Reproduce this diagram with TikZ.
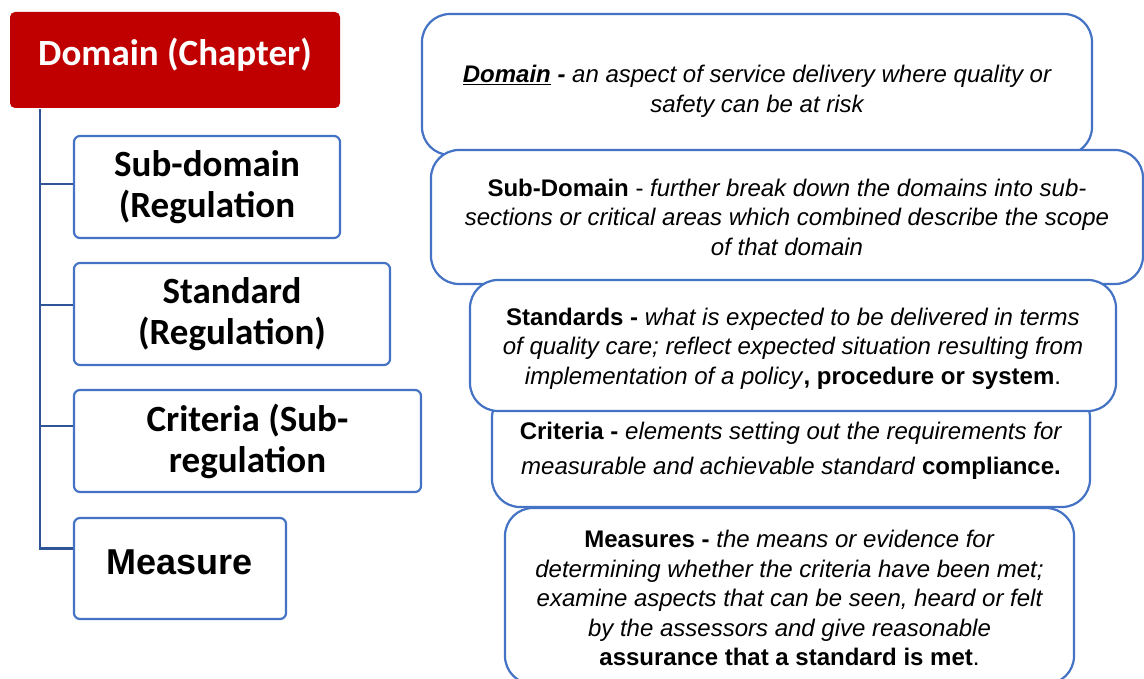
\documentclass[tikz,border=0pt]{standalone}
\usepackage{fontspec}
\setmainfont{Liberation Sans}
\newfontfamily\headfont{Carlito}
\newfontfamily\deffont{Liberation Sans}
\definecolor{chapred}{HTML}{C00000}
\definecolor{boxblue}{HTML}{4472C4}
\definecolor{treeblue}{HTML}{2F5597}
\newcommand\lift[1]{\rule{0pt}{#1}}
\tikzset{
  lvlbox/.style={draw=boxblue, line width=2.2pt, rounded corners=6pt, fill=white,
    inner sep=0pt, align=center, font=\headfont\fontsize{37}{41}\selectfont\bfseries},
  defbox/.style={draw=boxblue, line width=2.2pt, rounded corners=28pt, fill=white,
    inner sep=0pt, align=center, font=\deffont\fontsize{24}{29.5}\selectfont},
  tree/.style={treeblue, line width=2.5pt}
}
\begin{document}
\begin{tikzpicture}[x=1pt,y=-1pt]
\useasboundingbox (0,0) rectangle (1144,679);
\node[lvlbox, fill=chapred, draw=none, text=white, rounded corners=5pt,
  minimum width=330pt, minimum height=96pt] (dom) at (175,60) {\raisebox{16pt}{Domain (Chapter)}};
\node[lvlbox, minimum width=266pt, minimum height=102pt] (sub) at (207,187) {Sub-domain\\(Regulation};
\node[lvlbox, minimum width=316pt, minimum height=102pt] (std) at (232,314) {Standard\\(Regulation)};
\node[lvlbox, minimum width=347pt, minimum height=102pt] (crit) at (247.5,441) {Criteria (Sub-\\regulation};
\node[lvlbox, minimum width=212pt, minimum height=101pt,
  font=\fontsize{36}{41}\selectfont\bfseries] (meas) at (180,568.5) {\raisebox{12pt}{Measure}};
\foreach \n/\dy in {sub/3,std/9,crit/15,meas/20}
  \draw[tree] ([xshift=31pt]dom.south west) |- ([yshift=\dy pt]\n.west);
\node[defbox, minimum width=670pt, minimum height=141pt] (domdef) at (757,84.5)
  {\lift{31pt}\itshape\underline{\textbf{Domain}} \textbf{-} an aspect of service delivery where quality or\\
   \itshape safety can be at risk};
\node[defbox, minimum width=712pt, minimum height=134pt] (subdef) at (787,217)
  {\textbf{Sub-Domain} - \textit{further break down the domains into sub-}\\
   \itshape sections or critical areas which combined describe the scope\\
   \itshape of that domain};
\node[defbox, minimum width=598pt, minimum height=117pt,
  font=\deffont\fontsize{24}{35}\selectfont] (critdef) at (791,448.5)
  {\lift{22pt}\textbf{Criteria -} \textit{elements setting out the requirements for}\\
   \textit{measurable and achievable standard} \textbf{compliance.}};
\node[defbox, minimum width=646pt, minimum height=131pt] (stddef) at (793,345.5)
  {\lift{23pt}\textbf{Standards -} \textit{what is expected to be delivered in terms}\\
   \itshape of quality care; reflect expected situation resulting from\\
   \textit{implementation of a policy}\textbf{, procedure or system}.};
\node[defbox, minimum width=569pt, minimum height=176pt] (measdef) at (789.5,596)
  {\lift{22pt}\textbf{Measures -} \textit{the means or evidence for}\\
   \itshape determining whether the criteria have been met;\\
   \itshape examine aspects that can be seen, heard or felt\\
   \itshape by the assessors and give reasonable\\
   \textbf{assurance that a standard is met}.};
\end{tikzpicture}
\end{document}
